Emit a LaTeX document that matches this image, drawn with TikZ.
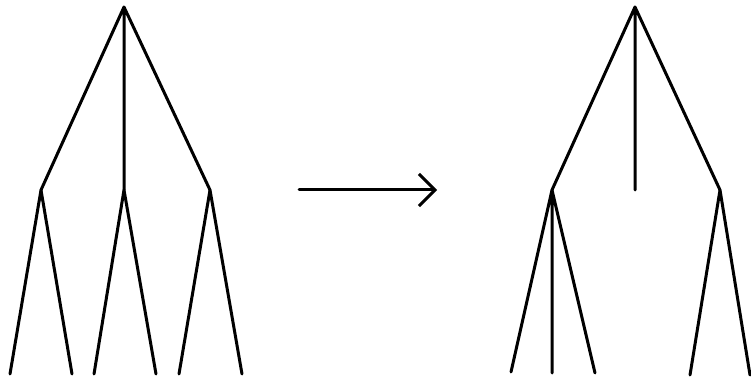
\documentclass[tikz,border=0pt]{standalone}
\usetikzlibrary{arrows.meta}
\begin{document}
\begin{tikzpicture}[x=1pt,y=-1pt,
  edge/.style={line width=3pt,line cap=round,line join=round},
  transform/.style={line width=3pt,line cap=round,-{Straight Barb[length=16pt,width=32pt,line width=3pt]}}]
\useasboundingbox (0,0) rectangle (751,379);
% left tree
\coordinate (r) at (124,7);
\coordinate (a) at (41,190);
\coordinate (b) at (124,190);
\coordinate (c) at (210,190);
\coordinate (a1) at (10,374);
\coordinate (a2) at (72,374);
\coordinate (b1) at (94,374);
\coordinate (b2) at (156,374);
\coordinate (c1) at (179,374);
\coordinate (c2) at (242,374);
\draw[edge] (a) -- (r) -- (b) (r) -- (c);
\draw[edge] (a1) -- (a) -- (a2);
\draw[edge] (b1) -- (b) -- (b2);
\draw[edge] (c1) -- (c) -- (c2);
% arrow
\coordinate (s) at (299,190);
\coordinate (t) at (437,190);
\draw[transform] (s) -- (t);
% right tree
\coordinate (R) at (635,7);
\coordinate (A) at (552,190);
\coordinate (B) at (635,190);
\coordinate (C) at (720,190);
\coordinate (A1) at (511,372);
\coordinate (A2) at (552,373);
\coordinate (A3) at (595,373);
\coordinate (C1) at (690,375);
\coordinate (C2) at (750,375);
\draw[edge] (A) -- (R) -- (B) (R) -- (C);
\draw[edge] (A1) -- (A) -- (A3) (A) -- (A2);
\draw[edge] (C1) -- (C) -- (C2);
\end{tikzpicture}
\end{document}
